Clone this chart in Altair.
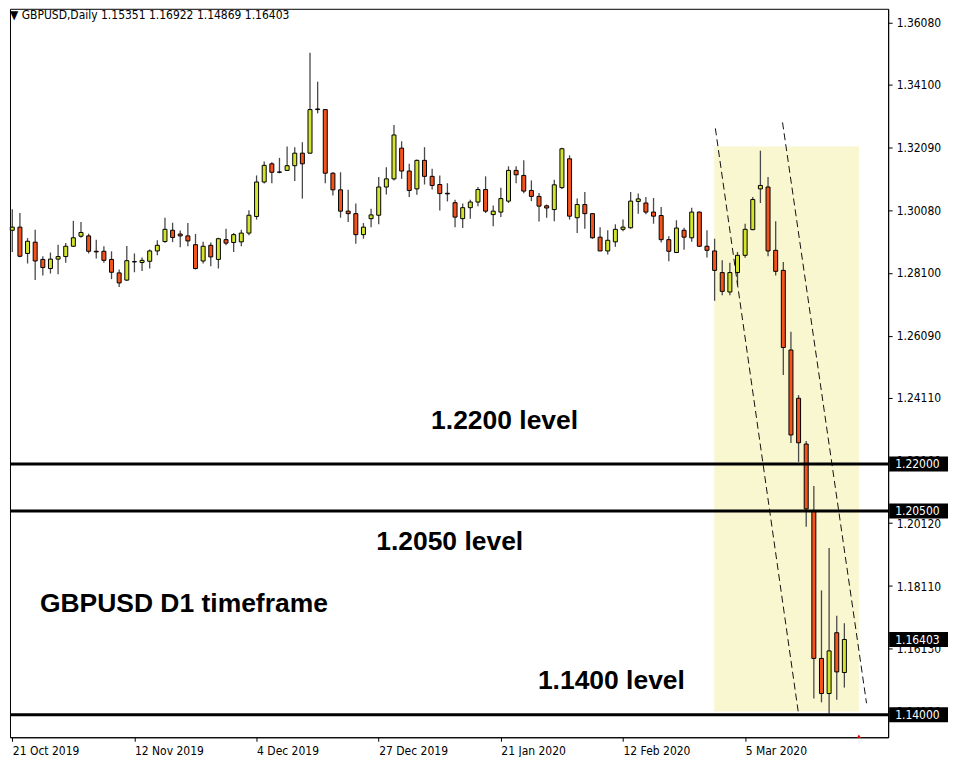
import altair as alt
import pandas as pd

# ---------------- data ----------------
opens = [1.2946, 1.2956, 1.2872, 1.2908, 1.2853, 1.2824, 1.2854, 1.2862, 1.2895, 1.2927,
         1.2928, 1.2879, 1.2879, 1.2853, 1.2810, 1.2787, 1.2846, 1.2843, 1.2847, 1.2880,
         1.2910, 1.2946, 1.2934, 1.2928, 1.2900, 1.2848, 1.2898, 1.2853, 1.2916, 1.2907,
         1.2909, 1.2937, 1.2990, 1.3100, 1.3158, 1.3132, 1.3137, 1.3152, 1.3192, 1.3192,
         1.3333, 1.3331, 1.3128, 1.3075, 1.3007, 1.2999, 1.2932, 1.2983, 1.2994, 1.3084,
         1.3110, 1.3208, 1.3135, 1.3078, 1.3169, 1.3118, 1.3092, 1.3064, 1.3034, 1.2983,
         1.3018, 1.3036, 1.3076, 1.2996, 1.3004, 1.3039, 1.3137, 1.3121, 1.3073, 1.3054,
         1.3024, 1.3012, 1.3082, 1.3174, 1.2986, 1.3028, 1.2999, 1.2924, 1.2880, 1.2909,
         1.2949, 1.2954, 1.3038, 1.3033, 1.3004, 1.2993, 1.2916, 1.2875, 1.2946, 1.2922,
         1.3004, 1.2895, 1.2880, 1.2811, 1.2749, 1.2811, 1.2866, 1.2948, 1.3078, 1.3084,
         1.2882, 1.2818, 1.2564, 1.2410, 1.2264, 1.2052, 1.1580, 1.1468, 1.1662, 1.15351]
highs = [1.3013, 1.3001, 1.2921, 1.2948, 1.2863, 1.2875, 1.2900, 1.2905, 1.2976, 1.2972,
         1.2935, 1.2916, 1.2895, 1.2879, 1.2821, 1.2896, 1.2872, 1.2859, 1.2885, 1.2914,
         1.2986, 1.2970, 1.2945, 1.2969, 1.2934, 1.2909, 1.2907, 1.2922, 1.2951, 1.2937,
         1.2948, 1.3010, 1.3121, 1.3165, 1.3163, 1.3177, 1.3213, 1.3211, 1.3227, 1.3512,
         1.3420, 1.3333, 1.3131, 1.3131, 1.3075, 1.3031, 1.2969, 1.3015, 1.3116, 1.3147,
         1.3282, 1.3230, 1.3158, 1.3172, 1.3211, 1.3142, 1.3121, 1.3096, 1.3043, 1.3031,
         1.3043, 1.3084, 1.3118, 1.3025, 1.3082, 1.3150, 1.3150, 1.3169, 1.3105, 1.3065,
         1.3028, 1.3107, 1.3209, 1.3185, 1.3047, 1.3068, 1.3001, 1.2956, 1.2946, 1.2965,
         1.2980, 1.3068, 1.3063, 1.3052, 1.3049, 1.3020, 1.2927, 1.2978, 1.2954, 1.3018,
         1.3006, 1.2946, 1.2919, 1.2850, 1.2842, 1.2877, 1.2967, 1.3052, 1.3200, 1.3116,
         1.2975, 1.2845, 1.2622, 1.2420, 1.2274, 1.2130, 1.1797, 1.1932, 1.1716, 1.16922]
lows = [1.2877, 1.2860, 1.2840, 1.2787, 1.2802, 1.2808, 1.2806, 1.2842, 1.2893, 1.2922,
        1.2872, 1.2856, 1.2842, 1.2790, 1.2765, 1.2784, 1.2812, 1.2816, 1.2824, 1.2866,
        1.2906, 1.2908, 1.2892, 1.2895, 1.2821, 1.2840, 1.2831, 1.2824, 1.2898, 1.2877,
        1.2895, 1.2930, 1.2980, 1.3095, 1.3096, 1.3128, 1.3135, 1.3103, 1.3047, 1.3190,
        1.3319, 1.3096, 1.3057, 1.2986, 1.2972, 1.2903, 1.2919, 1.2956, 1.2965, 1.3060,
        1.3105, 1.3110, 1.3052, 1.3059, 1.3092, 1.3076, 1.3009, 1.3038, 1.2956, 1.2953,
        1.2983, 1.3023, 1.3001, 1.2959, 1.2988, 1.3033, 1.3096, 1.3064, 1.3039, 1.2974,
        1.2986, 1.2975, 1.3078, 1.2980, 1.2937, 1.2951, 1.2919, 1.2880, 1.2869, 1.2893,
        1.2943, 1.2951, 1.2999, 1.2997, 1.2967, 1.2907, 1.2847, 1.2875, 1.2884, 1.2909,
        1.2893, 1.2859, 1.2721, 1.2739, 1.2739, 1.2771, 1.2858, 1.2946, 1.3033, 1.2863,
        1.2802, 1.2484, 1.2267, 1.2207, 1.2000, 1.1452, 1.1440, 1.1404, 1.1448, 1.14869]
closes = [1.2956, 1.2863, 1.2911, 1.2848, 1.2827, 1.2854, 1.2862, 1.2895, 1.2922, 1.2939,
          1.2879, 1.2877, 1.2850, 1.2812, 1.2778, 1.2849, 1.2845, 1.2850, 1.2880, 1.2898,
          1.2949, 1.2923, 1.2928, 1.2912, 1.2824, 1.2895, 1.2861, 1.2919, 1.2905, 1.2932,
          1.2937, 1.2994, 1.3100, 1.3153, 1.3131, 1.3131, 1.3152, 1.3192, 1.3158, 1.3331,
          1.3331, 1.3128, 1.3075, 1.3007, 1.2999, 1.2932, 1.2956, 1.2995, 1.3084, 1.3110,
          1.3250, 1.3135, 1.3073, 1.3169, 1.3118, 1.3089, 1.3063, 1.3062, 1.2988, 1.3018,
          1.3036, 1.3076, 1.3007, 1.3007, 1.3047, 1.3137, 1.3123, 1.3071, 1.3054, 1.3023,
          1.3017, 1.3091, 1.3206, 1.2991, 1.3028, 1.2999, 1.2922, 1.2880, 1.2914, 1.2949,
          1.2956, 1.3039, 1.3046, 1.3004, 1.2991, 1.2916, 1.2879, 1.2953, 1.2924, 1.3004,
          1.2895, 1.2882, 1.2818, 1.2751, 1.2811, 1.2866, 1.2949, 1.3044, 1.3089, 1.2880,
          1.2815, 1.2572, 1.2293, 1.2268, 1.2057, 1.1580, 1.1468, 1.1604, 1.1537, 1.16403]

tick_index = [0, 16, 32, 48, 64, 80, 96]
tick_labels = ["21 Oct 2019", "12 Nov 2019", "4 Dec 2019", "27 Dec 2019",
               "21 Jan 2020", "12 Feb 2020", "5 Mar 2020"]
price_ticks = [1.36080, 1.34100, 1.32090, 1.30080, 1.28100, 1.26090,
               1.24110, 1.22100, 1.20120, 1.18110, 1.16130, 1.14120]

level_prices = [1.22, 1.205, 1.14]
tag_prices = [1.22, 1.205, 1.16403, 1.14]

zone_x = [91.95, 110.9]
zone_y = [1.3213, 1.1411]

channel_start_x = [92.1, 100.9]
channel_start_y = [1.3271, 1.3290]
channel_end_x = [103.0, 111.9]
channel_end_y = [1.1402, 1.1437]

note_text = ["1.2200 level", "1.2050 level", "GBPUSD D1 timeframe", "1.1400 level"]
note_x = [54.86, 47.67, 3.62, 68.85]
note_y = [1.2338, 1.1952, 1.1755, 1.1507]

# ---------------- layout / style ----------------
W, H = 880, 730
XDOM = [-0.3, -0.3 + W / 7.65]
YDOM = [1.36526 - H / 3141.0, 1.36526]
BULL = "#D2E42C"
BEAR = "#F4531C"
FONT = "DejaVu Sans Condensed, Liberation Sans, sans-serif"
BIGFONT = "Liberation Sans"

n = len(opens)
candles = pd.DataFrame({
    "i": list(range(n)),
    "open": opens, "high": highs, "low": lows, "close": closes,
})
candles["dir"] = ["up" if c >= o else "down" for o, c in zip(opens, closes)]

label_expr = " : ".join(
    f"datum.value == {v} ? '{t}'" for v, t in zip(tick_index, tick_labels)
) + " : ''"

x_axis = alt.Axis(values=tick_index, labelExpr=label_expr, labelAlign="left",
                  labelFlush=False, labelOverlap=False, tickSize=4, tickColor="#000",
                  domainColor="#000", labelPadding=4, labelFont=FONT, labelFontSize=12,
                  labelColor="#000", grid=False, title=None)
y_axis = alt.Axis(orient="right", values=price_ticks, format=".5f", tickSize=4,
                  tickColor="#000", domainColor="#000", labelPadding=4, labelFont=FONT,
                  labelFontSize=12, labelColor="#000", grid=False, title=None,
                  labelOverlap=False, labelFlush=False)

xs = alt.Scale(domain=XDOM, nice=False, zero=False, padding=0)
ys = alt.Scale(domain=YDOM, nice=False, zero=False, padding=0)


def X(f, **kw):
    return alt.X(f, type="quantitative", scale=xs, axis=x_axis, **kw)


def Y(f, **kw):
    return alt.Y(f, type="quantitative", scale=ys, axis=y_axis, **kw)


zone_df = pd.DataFrame({"x1": [zone_x[0]], "x2": [zone_x[1]],
                        "y1": [zone_y[0]], "y2": [zone_y[1]]})
zone = alt.Chart(zone_df).mark_rect(color="#F9F7D0").encode(
    x=X("x1"), x2="x2", y=Y("y1"), y2="y2")

chan_df = pd.DataFrame({"x1": channel_start_x, "y1": channel_start_y,
                        "x2": channel_end_x, "y2": channel_end_y})
channel = alt.Chart(chan_df).mark_rule(color="#111", strokeWidth=1,
                                        strokeDash=[7, 4]).encode(
    x=X("x1"), y=Y("y1"), x2="x2", y2="y2")

wicks = alt.Chart(candles).mark_rule(color="#4a4a4a", strokeWidth=1.3).encode(
    x=X("i"), y=Y("low"), y2="high")

bodies = alt.Chart(candles).mark_bar(size=4, stroke="#000", strokeWidth=1).encode(
    x=X("i"), y=Y("open"), y2="close",
    color=alt.Color("dir:N", scale=alt.Scale(domain=["up", "down"], range=[BULL, BEAR]),
                    legend=None))

levels = alt.Chart(pd.DataFrame({"p": level_prices})).mark_rule(
    color="#000", strokeWidth=3).encode(y=Y("p"))

notes_df = pd.DataFrame({"t": note_text, "x": note_x, "y": note_y})
notes = alt.Chart(notes_df).mark_text(
    align="left", baseline="middle", font=BIGFONT, fontSize=26.5, fontWeight="bold",
    color="#000").encode(x=X("x"), y=Y("y"), text="t:N")

tags_df = pd.DataFrame({"p": tag_prices})
tag_box = alt.Chart(tags_df).mark_rule(color="#000", strokeWidth=15).encode(
    x=alt.value(W + 1), x2=alt.value(W + 60), y=Y("p"))
tag_txt = alt.Chart(tags_df).mark_text(
    align="left", baseline="middle", color="#fff", font=FONT, fontSize=12).encode(
    x=alt.value(W + 7), y=Y("p"), text=alt.Text("p:Q", format=".5f"))

title_str = "\u25BC GBPUSD,Daily {:.5f} {:.5f} {:.5f} {:.5f}".format(
    opens[-1], highs[-1], lows[-1], closes[-1])
title = alt.Chart(pd.DataFrame({"t": [title_str]})).mark_text(
    align="left", baseline="middle", font=FONT, fontSize=12, color="#000").encode(
    x=alt.value(0), y=alt.value(6), text="t:N")

marker = alt.Chart(pd.DataFrame({"x": [110.9]})).mark_point(
    shape="triangle-up", filled=True, color="#E00000", size=18, opacity=1).encode(
    x=X("x"), y=alt.value(H - 1))

chart = alt.layer(zone, wicks, bodies, channel, levels, notes, tag_box, tag_txt,
                  title, marker).properties(
    width=W, height=H, padding=0, background="white"
).configure_view(stroke="#000", strokeWidth=1)

chart.save("out.html", embed_options={"renderer": "svg", "actions": False})
